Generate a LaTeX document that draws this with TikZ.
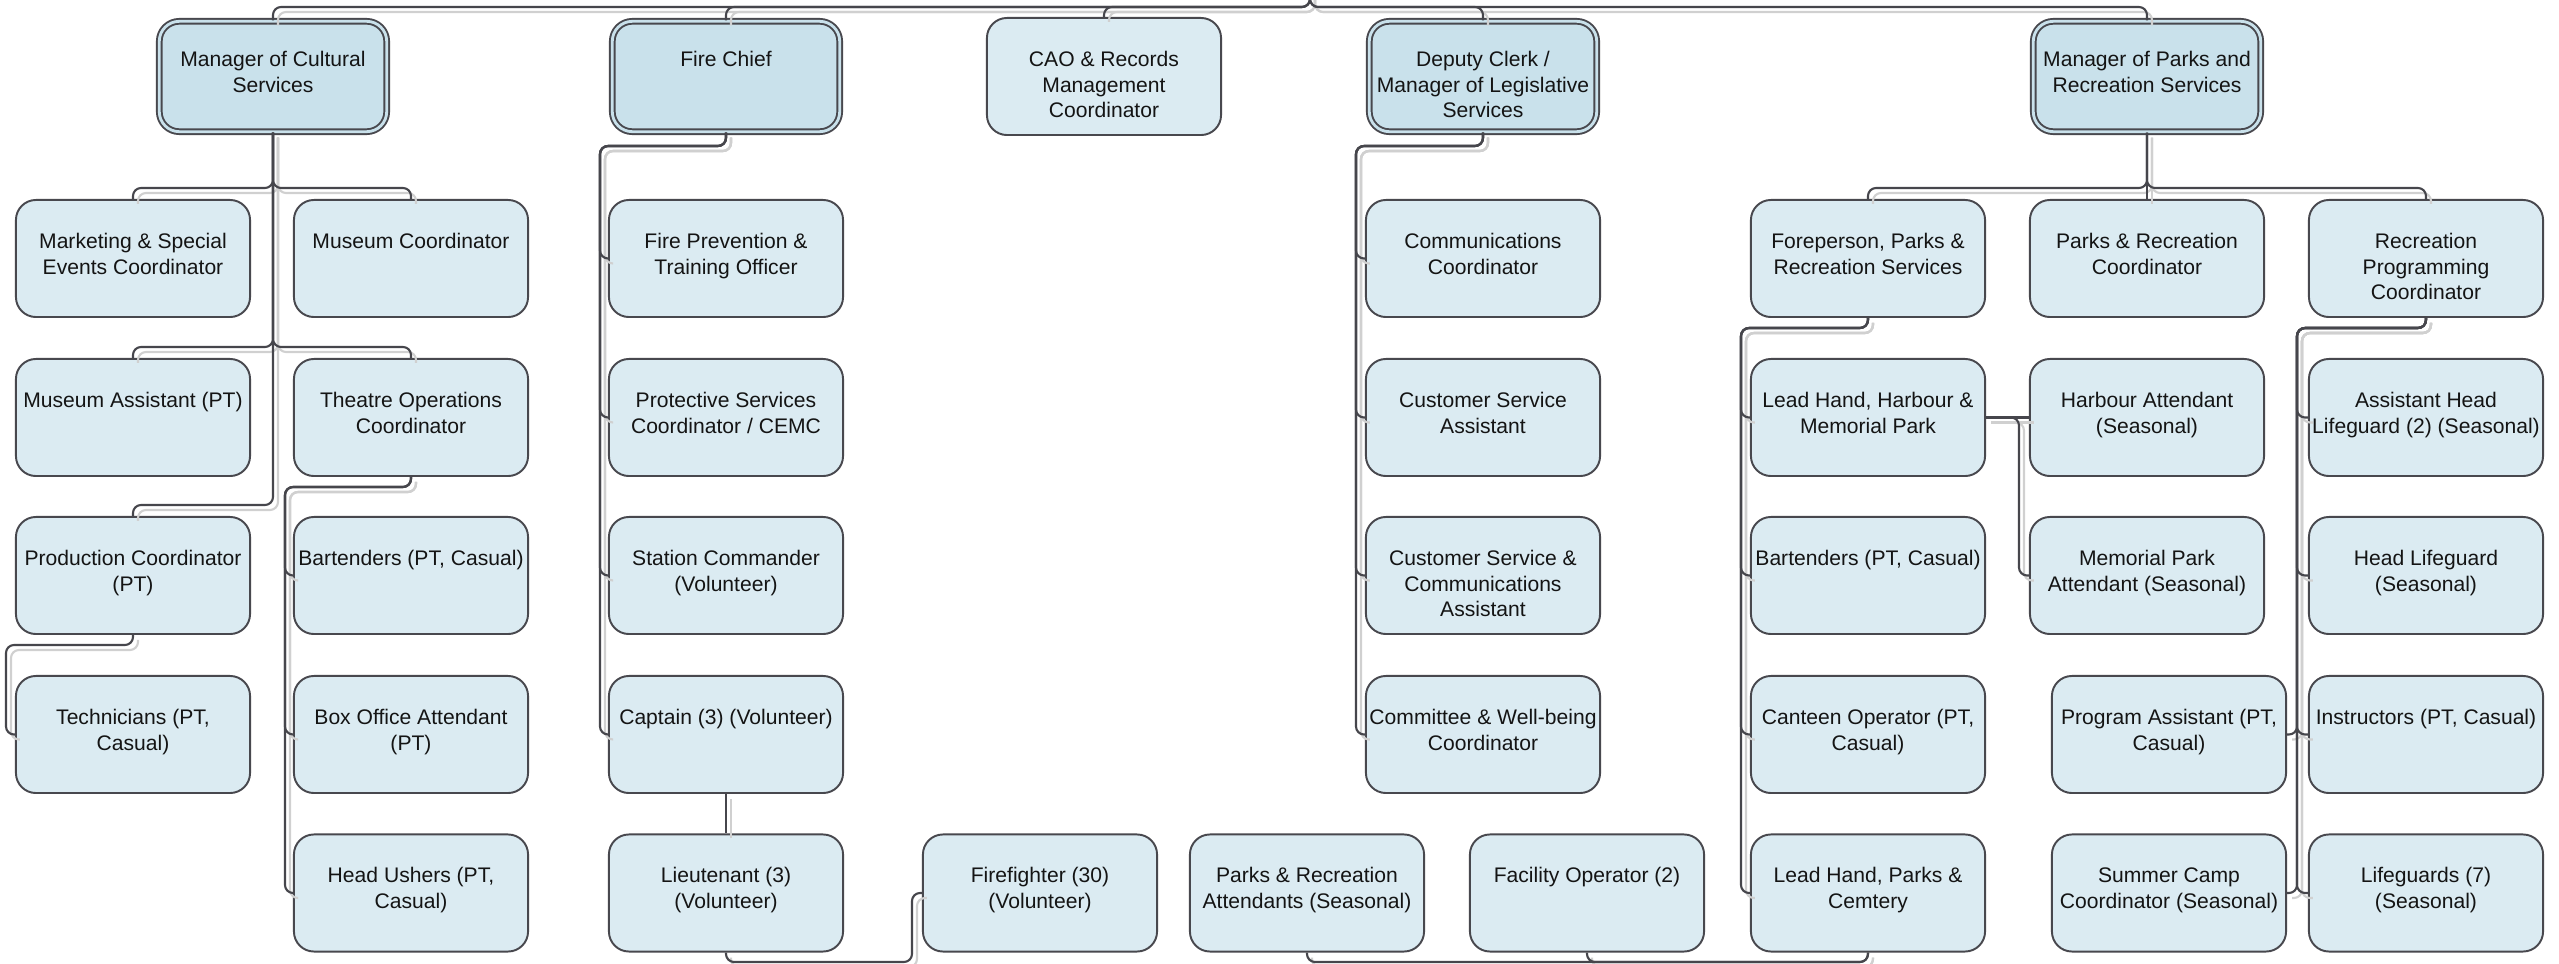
\documentclass[tikz,border=0pt]{standalone}
\usepackage{fontspec}
\setmainfont{Liberation Sans}

\definecolor{cell}{RGB}{219,235,242}
\definecolor{headcell}{RGB}{201,225,235}
\definecolor{edge}{RGB}{72,72,78}
\definecolor{ink}{RGB}{20,20,20}
\definecolor{wirec}{RGB}{70,70,76}
\definecolor{wireshade}{RGB}{208,208,208}

% text blocks: top-aligned inside a fixed-size box
\newcommand{\celltext}[1]{\parbox[c][1.17cm][t]{2.30cm}{\centering\rule{0pt}{0.485cm}#1\par}}
\newcommand{\headtext}[1]{\parbox[c][1.103cm][t]{2.27cm}{\centering\rule{0pt}{0.452cm}#1\par}}

% all reporting lines
\newcommand{\orgwires}{%
  % council level
  \draw[wire] (root) -- (topbus) -| (mcs.north);
  \draw[wire] (root) -- (topbus) -| (fc.north);
  \draw[wire] (root) -- (topbus) -| (cao.north);
  \draw[wire] (root) -- (topbus) -| (dc.north);
  \draw[wire] (root) -- (topbus) -| (mpr.north);
  % cultural services
  \draw[wire] (mcs.south) -- (mcsA) -| (mkt.north);
  \draw[wire] (mcs.south) -- (mcsA) -| (musc.north);
  \draw[wire] (mcs.south) -- (mcsB) -| (musa.north);
  \draw[wire] (mcs.south) -- (mcsB) -| (theo.north);
  \draw[wire] (mcs.south) -- (mcsC) -| (prod.north);
  \draw[wire] (prod.south) -- (prA) -- (prB) |- (tech.west);
  \draw[wire] (theo.south) -- (thA) -- (thB) |- (bt1.west);
  \draw[wire] (theo.south) -- (thA) -- (thB) |- (boxo.west);
  \draw[wire] (theo.south) -- (thA) -- (thB) |- (hu.west);
  % fire services
  \draw[wire] (fc.south) -- (fcA) -- (fcB) |- (fpt.west);
  \draw[wire] (fc.south) -- (fcA) -- (fcB) |- (psc.west);
  \draw[wire] (fc.south) -- (fcA) -- (fcB) |- (stc.west);
  \draw[wire] (fc.south) -- (fcA) -- (fcB) |- (cap.west);
  \draw[wire] (cap.south) -- (lt.north);
  \draw[wire] (lt.south) -- (ltA) -- (ltB) |- (ff.west);
  % legislative services
  \draw[wire] (dc.south) -- (dcA) -- (dcB) |- (comm.west);
  \draw[wire] (dc.south) -- (dcA) -- (dcB) |- (csa.west);
  \draw[wire] (dc.south) -- (dcA) -- (dcB) |- (csca.west);
  \draw[wire] (dc.south) -- (dcA) -- (dcB) |- (cwb.west);
  % parks and recreation
  \draw[wire] (mpr.south) -- (mprA) -| (fore.north);
  \draw[wire] (mpr.south) -- (prc.north);
  \draw[wire] (mpr.south) -- (mprA) -| (rpc.north);
  \draw[wire] (fore.south) -- (foA) -- (foB) |- (lhh.west);
  \draw[wire] (fore.south) -- (foA) -- (foB) |- (bt2.west);
  \draw[wire] (fore.south) -- (foA) -- (foB) |- (cant.west);
  \draw[wire] (fore.south) -- (foA) -- (foB) |- (lhp.west);
  \draw[wire] (lhh.east) -- (ha.west);
  \draw[wire] (lhh.east) -- (lhhA) |- (mpa.west);
  \draw[wire] (lhp.south) -- (lhpA) -| (pra.south);
  \draw[wire] (lhp.south) -- (lhpA) -| (fo.south);
  \draw[wire] (rpc.south) -- (rpA) -- (rpB) |- (ahl.west);
  \draw[wire] (rpc.south) -- (rpA) -- (rpB) |- (hl.west);
  \draw[wire] (rpc.south) -- (rpA) -- (rpB) |- (ins.west);
  \draw[wire] (rpc.south) -- (rpA) -- (rpB) |- (lg.west);
  \draw[wire] (rpc.south) -- (rpA) -- (rpB) |- (pa.east);
  \draw[wire] (rpc.south) -- (rpA) -- (rpB) |- (scc.east);
}

\begin{document}
\begin{tikzpicture}[x=0.01cm, y=-0.01cm,
  box/.style={draw=edge, line width=0.55pt, fill=cell, rounded corners=0.2cm,
    inner sep=0pt, minimum width=2.34cm, minimum height=1.17cm, text=ink,
    font=\fontsize{6}{7.3}\selectfont},
  headbox/.style={box, fill=headcell, double=headcell, double distance=0.8pt,
    minimum width=2.273cm, minimum height=1.103cm},
  wire/.style={draw=wirec, line width=0.6pt, rounded corners=0.08cm}]

\fill[white] (0,0) rectangle (2559,964);
\useasboundingbox (0,0) rectangle (2559,964);

% department heads
\node[headbox] (mcs) at (273,76.5)  {\headtext{Manager of Cultural\\Services}};
\node[headbox] (fc)  at (726,76.5)  {\headtext{Fire Chief}};
\node[box]     (cao) at (1104,76.5) {\celltext{CAO \& Records\\Management\\Coordinator}};
\node[headbox] (dc)  at (1483,76.5) {\headtext{Deputy Clerk /\\Manager of Legislative\\Services}};
\node[headbox] (mpr) at (2147,76.5) {\headtext{Manager of Parks and\\Recreation Services}};

% row 1
\node[box] (mkt)  at (133,258.5)  {\celltext{Marketing \& Special\\Events Coordinator}};
\node[box] (musc) at (411,258.5)  {\celltext{Museum Coordinator}};
\node[box] (fpt)  at (726,258.5)  {\celltext{Fire Prevention \&\\Training Officer}};
\node[box] (comm) at (1483,258.5) {\celltext{Communications\\Coordinator}};
\node[box] (fore) at (1868,258.5) {\celltext{Foreperson, Parks \&\\Recreation Services}};
\node[box] (prc)  at (2147,258.5) {\celltext{Parks \& Recreation\\Coordinator}};
\node[box] (rpc)  at (2426,258.5) {\celltext{Recreation\\Programming\\Coordinator}};

% row 2
\node[box] (musa) at (133,417.5)  {\celltext{Museum Assistant (PT)}};
\node[box] (theo) at (411,417.5)  {\celltext{Theatre Operations\\Coordinator}};
\node[box] (psc)  at (726,417.5)  {\celltext{Protective Services\\Coordinator / CEMC}};
\node[box] (csa)  at (1483,417.5) {\celltext{Customer Service\\Assistant}};
\node[box] (lhh)  at (1868,417.5) {\celltext{Lead Hand, Harbour \&\\Memorial Park}};
\node[box] (ha)   at (2147,417.5) {\celltext{Harbour Attendant\\(Seasonal)}};
\node[box] (ahl)  at (2426,417.5) {\celltext{Assistant Head\\Lifeguard (2) (Seasonal)}};

% row 3
\node[box] (prod) at (133,575.5)  {\celltext{Production Coordinator\\(PT)}};
\node[box] (bt1)  at (411,575.5)  {\celltext{Bartenders (PT, Casual)}};
\node[box] (stc)  at (726,575.5)  {\celltext{Station Commander\\(Volunteer)}};
\node[box] (csca) at (1483,575.5) {\celltext{Customer Service \&\\Communications\\Assistant}};
\node[box] (bt2)  at (1868,575.5) {\celltext{Bartenders (PT, Casual)}};
\node[box] (mpa)  at (2147,575.5) {\celltext{Memorial Park\\Attendant (Seasonal)}};
\node[box] (hl)   at (2426,575.5) {\celltext{Head Lifeguard\\(Seasonal)}};

% row 4
\node[box] (tech) at (133,734.5)  {\celltext{Technicians (PT,\\Casual)}};
\node[box] (boxo) at (411,734.5)  {\celltext{Box Office Attendant\\(PT)}};
\node[box] (cap)  at (726,734.5)  {\celltext{Captain (3) (Volunteer)}};
\node[box] (cwb)  at (1483,734.5) {\celltext{Committee \& Well-being\\Coordinator}};
\node[box] (cant) at (1868,734.5) {\celltext{Canteen Operator (PT,\\Casual)}};
\node[box] (pa)   at (2169,734.5) {\celltext{Program Assistant (PT,\\Casual)}};
\node[box] (ins)  at (2426,734.5) {\celltext{Instructors (PT, Casual)}};

% row 5
\node[box] (hu)   at (411,893)  {\celltext{Head Ushers (PT,\\Casual)}};
\node[box] (lt)   at (726,893)  {\celltext{Lieutenant (3)\\(Volunteer)}};
\node[box] (ff)   at (1040,893) {\celltext{Firefighter (30)\\(Volunteer)}};
\node[box] (pra)  at (1307,893) {\celltext{Parks \& Recreation\\Attendants (Seasonal)}};
\node[box] (fo)   at (1587,893) {\celltext{Facility Operator (2)}};
\node[box] (lhp)  at (1868,893) {\celltext{Lead Hand, Parks \&\\Cemtery}};
\node[box] (scc)  at (2169,893) {\celltext{Summer Camp\\Coordinator (Seasonal)}};
\node[box] (lg)   at (2426,893) {\celltext{Lifeguards (7)\\(Seasonal)}};

% bends of the reporting lines
\coordinate (root)   at (1310,-12);
\coordinate (topbus) at (1310,7);
\coordinate (mcsA) at (273,188);
\coordinate (mcsB) at (273,347);
\coordinate (mcsC) at (273,505);
\coordinate (prA)  at (133,645);
\coordinate (prB)  at (6,645);
\coordinate (thA)  at (411,487);
\coordinate (thB)  at (285,487);
\coordinate (fcA)  at (726,146);
\coordinate (fcB)  at (600,146);
\coordinate (ltA)  at (726,962);
\coordinate (ltB)  at (912,962);
\coordinate (dcA)  at (1483,146);
\coordinate (dcB)  at (1356,146);
\coordinate (mprA) at (2147,188);
\coordinate (foA)  at (1868,328);
\coordinate (foB)  at (1741,328);
\coordinate (lhhA) at (2019,417.5);
\coordinate (lhpA) at (1868,962);
\coordinate (rpA)  at (2426,328);
\coordinate (rpB)  at (2297,328);

% soft offset shadow under the lines
\begin{scope}[transform canvas={shift={(5,5)}},
  wire/.style={draw=wireshade, line width=0.6pt, rounded corners=0.08cm}]
  \orgwires
\end{scope}
\orgwires

\end{tikzpicture}
\end{document}
